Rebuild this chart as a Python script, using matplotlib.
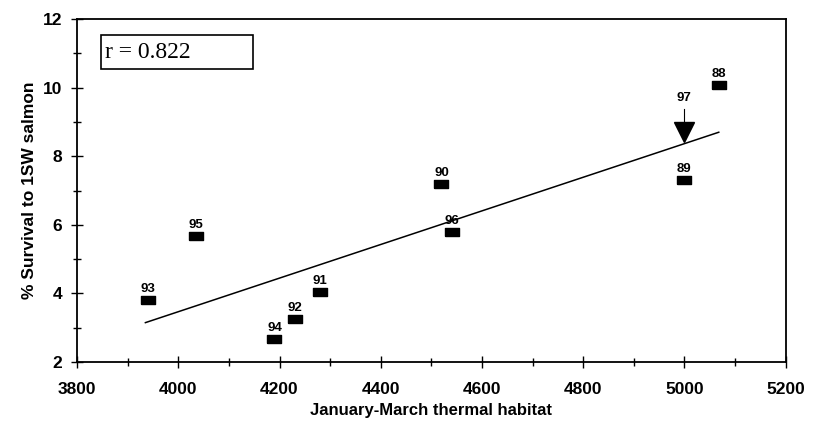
import matplotlib
matplotlib.use('Agg')
import matplotlib.pyplot as plt
from matplotlib.patches import Rectangle
from matplotlib.ticker import MultipleLocator

plt.rcParams['font.family'] = ['Liberation Sans', 'DejaVu Sans']

# thermal habitat vs. survival, labelled by smolt year
years = ['88', '89', '90', '91', '92', '93', '94', '95', '96']
habitat = [5068, 5000, 4520, 4280, 4230, 3940, 4190, 4035, 4540]
survival = [10.08, 7.3, 7.2, 4.05, 3.25, 3.8, 2.68, 5.68, 5.8]

# 1997 predicted value
pred_year = '97'
pred_habitat = 5000
pred_survival = 8.72

# regression line end points
fit_x = [3935, 5068]
fit_y = [3.15, 8.7]

fig = plt.figure(figsize=(8.2, 4.23), dpi=100)
ax = fig.add_axes([0.094, 0.144, 0.864, 0.811])

rect = [(-1, -0.5), (1, -0.5), (1, 0.5), (-1, 0.5), (-1, -0.5)]
ax.plot(habitat, survival, linestyle='none', marker=rect, markersize=10.5,
        color='black', zorder=3)
for yr, x, y in zip(years, habitat, survival):
    ax.annotate(yr, (x, y), xytext=(0, 3.5), textcoords='offset points',
                ha='center', va='bottom', fontsize=9.5, fontweight='bold')

ax.plot([pred_habitat], [pred_survival], linestyle='none', marker='v',
        markersize=15, color='black', zorder=3)
ax.plot([pred_habitat, pred_habitat], [pred_survival, pred_survival + 0.65],
        color='black', lw=0.8)
ax.annotate(pred_year, (pred_habitat, pred_survival), xytext=(0, 20),
            textcoords='offset points', ha='center', va='bottom',
            fontsize=9.5, fontweight='bold')

ax.plot(fit_x, fit_y, color='black', lw=1.1, zorder=2)

# correlation box
ax.add_patch(Rectangle((0.034, 0.854), 0.214, 0.099, transform=ax.transAxes,
                       facecolor='white', edgecolor='black', lw=1.2, zorder=4))
ax.text(0.040, 0.902, 'r = 0.822', transform=ax.transAxes, ha='left',
        va='center', fontsize=17, zorder=5,
        family=['Liberation Serif', 'DejaVu Serif'])

ax.set_xlim(3800, 5200)
ax.set_ylim(2, 12)
ax.xaxis.set_major_locator(MultipleLocator(200))
ax.xaxis.set_minor_locator(MultipleLocator(100))
ax.yaxis.set_major_locator(MultipleLocator(2))
ax.yaxis.set_minor_locator(MultipleLocator(1))
ax.tick_params(which='major', direction='inout', length=9, width=1,
               labelsize=12.5, pad=6)
ax.tick_params(axis='x', which='major', pad=10)
ax.tick_params(which='minor', direction='inout', length=6, width=1)
for lbl in ax.get_xticklabels() + ax.get_yticklabels():
    lbl.set_fontweight('bold')
for sp in ax.spines.values():
    sp.set_linewidth(1.3)

ax.set_xlabel('January-March thermal habitat', fontsize=12, fontweight='bold',
              labelpad=4)
ax.set_ylabel('% Survival to 1SW salmon', fontsize=12.5, fontweight='bold',
              labelpad=4)

fig.savefig('out.png', dpi=100, facecolor='white')
